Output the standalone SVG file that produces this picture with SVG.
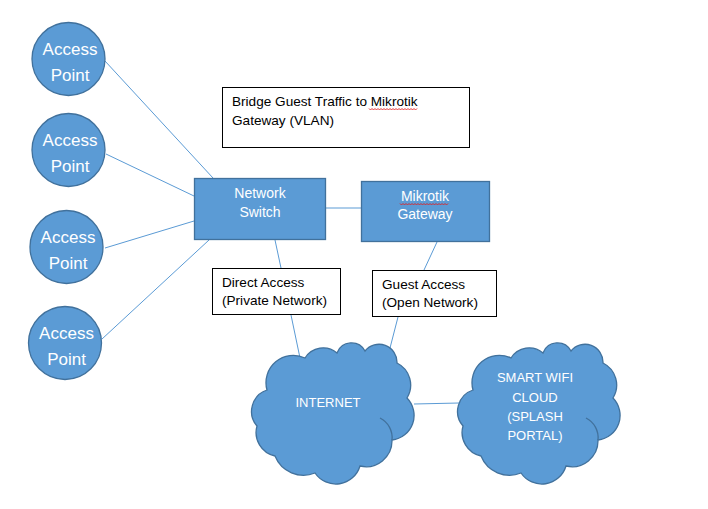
<svg xmlns="http://www.w3.org/2000/svg" width="708" height="509" viewBox="0 0 708 509">
<defs>
<style>
.node{fill:#5B9BD5;stroke:#41719C;stroke-width:1.3}
.box{fill:#FFFFFF;stroke:#000000;stroke-width:1}
.wt{font-family:"Liberation Sans",Arial,sans-serif;font-size:14px;fill:#FFFFFF;text-anchor:middle}
.ct{font-family:"Liberation Sans",Arial,sans-serif;font-size:13px;fill:#FFFFFF;text-anchor:middle}
.ap{font-family:"Liberation Sans",Arial,sans-serif;font-size:17px;fill:#FFFFFF;text-anchor:middle}
.bt{font-family:"Liberation Sans",Arial,sans-serif;font-size:13.6px;fill:#000000}
.conn line{stroke:#5B9BD5;stroke-width:1}
.inner{fill:none;stroke:#41719C;stroke-width:1.3}
.sq{fill:none;stroke:#E02020;stroke-width:0.9}
</style>
<path id="cloud" d="M14,47 A27.3,27.3 0 0 1 52,15 A21.2,21.2 0 0 1 84,10 A15.4,15.4 0 0 1 112,8 A18,18 0 0 1 144,20 A24.7,24.7 0 0 1 154,55 A24.8,24.8 0 0 1 139,97 A26,26 0 0 1 107,123 A25.2,25.2 0 0 1 62,130 A30.7,30.7 0 0 1 22,113 A24,24 0 0 1 4,83 A22.5,22.5 0 0 1 14,47 Z"/>
</defs>
<rect width="708" height="509" fill="#FFFFFF"/>
<g id="connectors" class="conn">
<line x1="105" y1="61" x2="213" y2="178"/>
<line x1="106" y1="154" x2="194" y2="196"/>
<line x1="105" y1="248" x2="194" y2="221"/>
<line x1="102" y1="339" x2="209" y2="240"/>
<line x1="326" y1="208" x2="361" y2="208"/>
<line x1="275" y1="240" x2="281" y2="268"/>
<line x1="291" y1="315" x2="300" y2="358"/>
<line x1="437" y1="242" x2="424" y2="270"/>
<line x1="398" y1="317" x2="390" y2="348"/>
<line x1="414" y1="404" x2="459" y2="403"/>
</g>
<g id="ap1"><circle class="node" cx="68.5" cy="59" r="36.5"/><text class="ap" x="70" y="55">Access</text><text class="ap" x="70" y="81">Point</text></g>
<g id="ap2"><circle class="node" cx="68.5" cy="150" r="36.5"/><text class="ap" x="70" y="146">Access</text><text class="ap" x="70" y="172">Point</text></g>
<g id="ap3"><circle class="node" cx="66.5" cy="247" r="36.5"/><text class="ap" x="68" y="243">Access</text><text class="ap" x="68" y="269">Point</text></g>
<g id="ap4"><circle class="node" cx="65" cy="343" r="36.5"/><text class="ap" x="66.5" y="339">Access</text><text class="ap" x="66.5" y="365">Point</text></g>
<g id="bridge-note"><rect class="box" x="222.5" y="87.5" width="247" height="60"/><text class="bt" x="232" y="106">Bridge Guest Traffic to Mikrotik</text><text class="bt" x="232" y="125">Gateway (VLAN)</text><path class="sq" d="M369,108.5 l1.5,1.5 l1.5,-1.5 l1.5,1.5 l1.5,-1.5 l1.5,1.5 l1.5,-1.5 l1.5,1.5 l1.5,-1.5 l1.5,1.5 l1.5,-1.5 l1.5,1.5 l1.5,-1.5 l1.5,1.5 l1.5,-1.5 l1.5,1.5 l1.5,-1.5 l1.5,1.5 l1.5,-1.5 l1.5,1.5 l1.5,-1.5 l1.5,1.5 l1.5,-1.5 l1.5,1.5 l1.5,-1.5 l1.5,1.5 l1.5,-1.5 l1.5,1.5 l1.5,-1.5 l1.5,1.5 l1.5,-1.5 l1.5,1.5 l1.5,-1.5"/></g>
<g id="network-switch"><rect class="node" x="194.5" y="178.5" width="131" height="61"/><text class="wt" x="260" y="198">Network</text><text class="wt" x="260" y="217">Switch</text></g>
<g id="mikrotik-gateway"><rect class="node" x="361.5" y="181.5" width="128" height="60"/><text class="wt" x="425" y="201">Mikrotik</text><text class="wt" x="425" y="219">Gateway</text><path class="sq" d="M400,203.5 l1.5,1.5 l1.5,-1.5 l1.5,1.5 l1.5,-1.5 l1.5,1.5 l1.5,-1.5 l1.5,1.5 l1.5,-1.5 l1.5,1.5 l1.5,-1.5 l1.5,1.5 l1.5,-1.5 l1.5,1.5 l1.5,-1.5 l1.5,1.5 l1.5,-1.5 l1.5,1.5 l1.5,-1.5 l1.5,1.5 l1.5,-1.5 l1.5,1.5 l1.5,-1.5 l1.5,1.5 l1.5,-1.5 l1.5,1.5 l1.5,-1.5 l1.5,1.5 l1.5,-1.5 l1.5,1.5 l1.5,-1.5 l1.5,1.5 l1.5,-1.5"/></g>
<g id="direct-access"><rect class="box" x="212.5" y="268.5" width="128" height="46"/><text class="bt" x="222" y="287">Direct Access</text><text class="bt" x="222" y="305">(Private Network)</text></g>
<g id="guest-access"><rect class="box" x="372.5" y="270.5" width="124" height="46"/><text class="bt" x="382" y="289">Guest Access</text><text class="bt" x="382" y="307">(Open Network)</text></g>
<g id="internet" transform="translate(253,343)"><use href="#cloud" class="node"/><path class="inner" d="M127,75 A22,22 0 0 1 139,97"/><text class="ct" x="75" y="64">INTERNET</text></g>
<g id="smart-wifi-cloud" transform="translate(459,343)"><use href="#cloud" class="node"/><path class="inner" d="M127,75 A22,22 0 0 1 139,97"/><text class="ct" x="76" y="39">SMART WIFI</text><text class="ct" x="76" y="59">CLOUD</text><text class="ct" x="76" y="78">(SPLASH</text><text class="ct" x="76" y="97">PORTAL)</text></g>
</svg>
